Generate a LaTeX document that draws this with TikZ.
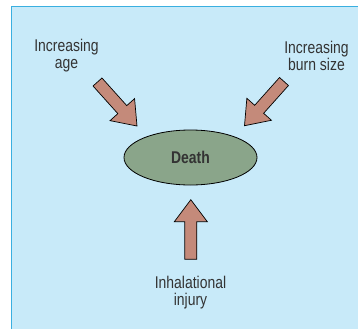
\documentclass[tikz,border=0pt]{standalone}
\usepackage{fontspec}
\setmainfont{Liberation Sans}[FakeStretch=0.82]
\usetikzlibrary{calc,shapes.geometric}

\definecolor{fondo}{HTML}{C8EAF9}
\definecolor{borde}{HTML}{3AAFE0}
\definecolor{rosado}{HTML}{C48A7A}
\definecolor{verde}{HTML}{8AA58A}
\definecolor{texto}{HTML}{333333}

% flecha gruesa de #1 (cola) a #2 (punta)
\newcommand{\flechagruesa}[2]{%
  \coordinate (h) at ($(#2)!22pt!(#1)$);
  \draw[flecha] ($(#1)!6pt!90:(#2)$) -- ($(h)!6pt!90:(#2)$)
    -- ($(h)!16.5pt!90:(#2)$) -- (#2) -- ($(h)!16.5pt!-90:(#2)$)
    -- ($(h)!6pt!-90:(#2)$) -- ($(#1)!6pt!-90:(#2)$) -- cycle;}

\begin{document}
\begin{tikzpicture}[
    x=1pt, y=-1pt,
    etiqueta/.style={align=center, text=texto, inner sep=0pt,
                     font=\fontsize{17}{17}\selectfont},
    nucleo/.style={ellipse, draw, fill=verde, line width=0.8pt,
                   minimum width=133pt, minimum height=55pt, inner sep=0pt,
                   text=texto, font=\fontsize{17}{17}\selectfont\bfseries},
    flecha/.style={fill=rosado, draw=black, line width=0.7pt, line join=miter}
]
\useasboundingbox (0,0) rectangle (358,329);

% Fondo
\fill[fondo] (11,7) rectangle (358,329);
\draw[borde, line width=1pt] (11,329) -- (11,7) -- (358,7);

% Nodos
\node[nucleo] (death) at (190.5,157.5) {Death};

\node[etiqueta] (age) at (66.5,55.5) {Increasing\\age};
\node[etiqueta] (burn) at (316.5,55.5) {Increasing\\burn size};
\node[etiqueta] (inhal) at (190.5,292.5) {Inhalational\\injury};

% Extremos de las flechas
\coordinate (ageA) at (97.5,82);
\coordinate (ageB) at (137,126);
\coordinate (burnA) at (284,81.5);
\coordinate (burnB) at (244.5,125.7);
\coordinate (inhalA) at (190.8,259.3);
\coordinate (inhalB) at (190.8,199.7);

% Flechas
\flechagruesa{ageA}{ageB}
\flechagruesa{burnA}{burnB}
\flechagruesa{inhalA}{inhalB}

\end{tikzpicture}
\end{document}
